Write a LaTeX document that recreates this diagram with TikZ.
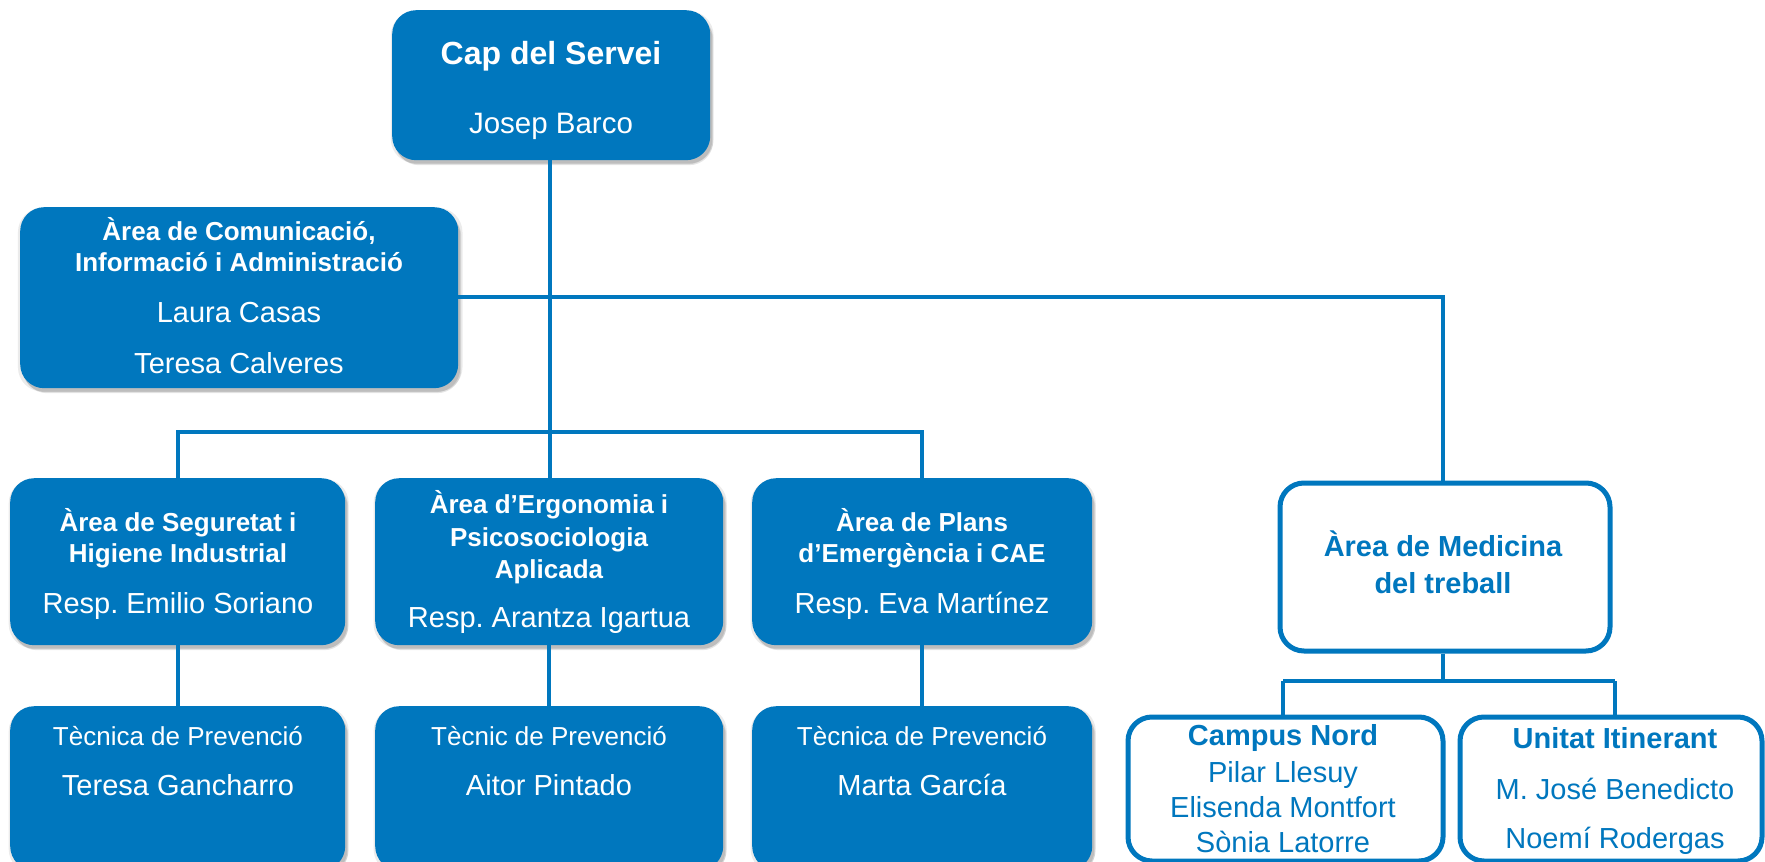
\documentclass[tikz,border=0pt]{standalone}
\usepackage{fontspec}
\setmainfont{Liberation Sans}
\frenchspacing
\usetikzlibrary{shadows}
\definecolor{ublue}{RGB}{0,119,190}
\tikzset{
  boxshadow/.style={
    general shadow={shadow xshift=1pt, shadow yshift=-2pt, fill=black, opacity=0.08, shadow scale=1.015},
    general shadow={shadow xshift=2pt, shadow yshift=-4pt, fill=black, opacity=0.10},
    general shadow={shadow xshift=3pt, shadow yshift=-5pt, fill=black, opacity=0.10},
  },
  bluebox/.style={boxshadow, fill=ublue, draw=none, rounded corners=24pt, inner sep=0pt, anchor=north west},
  whitebox/.style={fill=white, draw=ublue, line width=5pt, rounded corners=24pt, inner sep=0pt, anchor=north west},
  conn/.style={draw=ublue, line width=4pt},
  wreg/.style={text=white, anchor=base, inner sep=0pt, font=\fontsize{29}{34}\selectfont},
  wsmall/.style={text=white, anchor=base, inner sep=0pt, font=\fontsize{26}{31}\selectfont},
  wbold/.style={text=white, anchor=base, inner sep=0pt, font=\fontsize{26}{31}\selectfont\bfseries},
  breg/.style={text=ublue, anchor=base, inner sep=0pt, font=\fontsize{29}{34}\selectfont},
  bbold/.style={text=ublue, anchor=base, inner sep=0pt, font=\fontsize{29}{34}\selectfont\bfseries},
}
\begin{document}
\begin{tikzpicture}[x=1pt,y=-1pt]
\useasboundingbox (0,0) rectangle (1765,862);
\clip (0,0) rectangle (1765,862);
\fill[white] (0,0) rectangle (1765,862);

% boxes
\node[bluebox, minimum width=318pt, minimum height=150pt] (cap) at (392,10) {};
\node[bluebox, minimum width=438pt, minimum height=181pt] (com) at (20,207) {};
\node[bluebox, minimum width=335pt, minimum height=167pt] (seg) at (10,478) {};
\node[bluebox, minimum width=348pt, minimum height=167pt] (erg) at (375,478) {};
\node[bluebox, minimum width=340pt, minimum height=167pt] (pla) at (752,478) {};
\node[bluebox, minimum width=335pt, minimum height=164pt] (seg3) at (10,706) {};
\node[bluebox, minimum width=348pt, minimum height=164pt] (erg3) at (375,706) {};
\node[bluebox, minimum width=340pt, minimum height=164pt] (pla3) at (752,706) {};
\node[whitebox, minimum width=330pt, minimum height=168pt] (med) at (1277.5,480.5) {};
\node[whitebox, minimum width=315pt, minimum height=144pt] (cam) at (1125.5,714.5) {};
\node[whitebox, minimum width=302pt, minimum height=144pt] (uni) at (1457.5,714.5) {};

% connector junctions
\coordinate (hubA) at (550,297);
\coordinate (hubB) at (550,432);
\coordinate (medtop) at (1443,297);
\coordinate (hubC) at (1283,681);
\coordinate (hubD) at (1615,681);

\draw[conn] (cap.south -| hubA) -- (erg.north -| hubA);
\draw[conn] (com.east |- hubA) -- (medtop) -- (med.north -| medtop);
\draw[conn] (seg.north) -- (seg.north |- hubB) -- (pla.north |- hubB) -- (pla.north);
\draw[conn] (seg.south) -- (seg3.north);
\draw[conn] (erg.south) -- (erg3.north);
\draw[conn] (pla.south) -- (pla3.north);
\draw[conn] (med.south -| medtop) -- (medtop |- hubC) -- (hubC) -- (hubD);
\draw[conn] (hubC) -- (cam.north -| hubC);
\draw[conn] (hubD) -- (uni.north -| hubD);

% texts
\node[font=\fontsize{32}{38}\selectfont\bfseries, text=white, anchor=base, inner sep=0pt] (capT1) at (551,64) {Cap del Servei};
\node[wreg, font=\fontsize{29.5}{34}\selectfont] (capT2) at (551,133) {Josep Barco};

\node[wbold] (comT1) at (239,240) {Àrea de Comunicació,};
\node[wbold] (comT2) at (239,271) {Informació i Administració};
\node[wreg] (comT3) at (239,322) {Laura Casas};
\node[wreg] (comT4) at (239,373) {Teresa Calveres};

\node[wbold] (segT1) at (178,531) {Àrea de Seguretat i};
\node[wbold] (segT2) at (178,562) {Higiene Industrial};
\node[wreg] (segT3) at (178,613) {Resp. Emilio Soriano};

\node[wbold] (ergT1) at (549,513) {Àrea d’Ergonomia i};
\node[wbold] (ergT2) at (549,546) {Psicosociologia};
\node[wbold] (ergT3) at (549,578) {Aplicada};
\node[wreg] (ergT4) at (549,627) {Resp. Arantza Igartua};

\node[wbold] (plaT1) at (922,531) {Àrea de Plans};
\node[wbold] (plaT2) at (922,562) {d’Emergència i CAE};
\node[wreg] (plaT3) at (922,613) {Resp. Eva Martínez};

\node[wsmall] (seg3T1) at (178,745) {Tècnica de Prevenció};
\node[wreg] (seg3T2) at (178,795) {Teresa Gancharro};
\node[wsmall] (erg3T1) at (549,745) {Tècnic de Prevenció};
\node[wreg] (erg3T2) at (549,795) {Aitor Pintado};
\node[wsmall] (pla3T1) at (922,745) {Tècnica de Prevenció};
\node[wreg] (pla3T2) at (922,795) {Marta García};

\node[bbold] (medT1) at (1443,556) {Àrea de Medicina};
\node[bbold] (medT2) at (1443,593) {del treball};

\node[bbold] (camT1) at (1283,745) {Campus Nord};
\node[breg] (camT2) at (1283,782) {Pilar Llesuy};
\node[breg] (camT3) at (1283,817) {Elisenda Montfort};
\node[breg] (camT4) at (1283,852) {Sònia Latorre};

\node[bbold] (uniT1) at (1615,748) {Unitat Itinerant};
\node[breg] (uniT2) at (1615,799) {M. José Benedicto};
\node[breg] (uniT3) at (1615,848) {Noemí Rodergas};
\end{tikzpicture}
\end{document}
